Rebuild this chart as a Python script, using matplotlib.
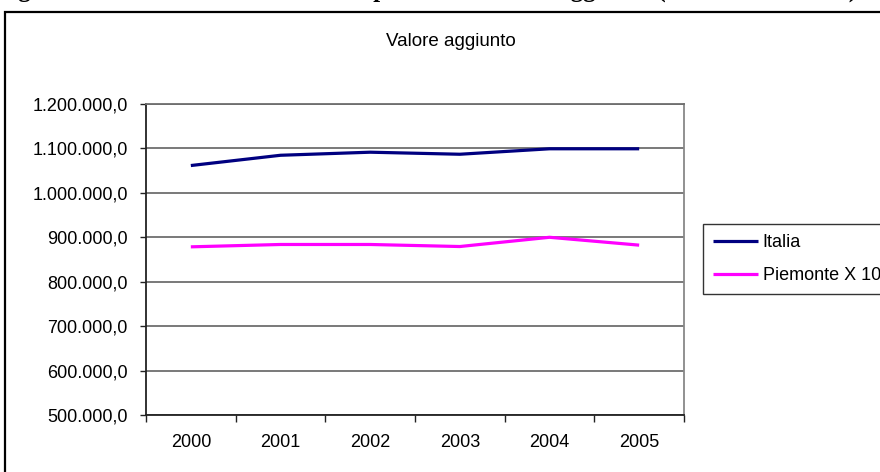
import numpy as np
import matplotlib.pyplot as plt
from matplotlib.patches import Rectangle
from matplotlib.ticker import FuncFormatter, FixedLocator

# data
anni = ["2000", "2001", "2002", "2003", "2004", "2005"]
italia = [1061500, 1084600, 1091500, 1086900, 1099200, 1099200]
piemonte_x10 = [878500, 883800, 883800, 879200, 900000, 882300]
y_ticks = [500000, 600000, 700000, 800000, 900000, 1000000, 1100000, 1200000]

W, H = 880, 472
fig = plt.figure(figsize=(W / 100, H / 100), dpi=100)
plt.rcParams['font.family'] = ['Liberation Sans', 'DejaVu Sans']

# document caption, cut off at the top of the picture
fig.text(-3.5 / W, 1 + 3 / H,
         "Figura 5.3: Andamento in serie temporale del valore aggiunto (in milioni di euro)",
         family='Liberation Serif', weight='bold', fontsize=18,
         ha='left', va='baseline')

# outer chart border
fig.patches.append(Rectangle((5 / W, -0.1), 1.2, (H - 12) / H + 0.1,
                             transform=fig.transFigure, fill=False,
                             ec='black', lw=1.6))

ax = fig.add_axes([146 / W, (H - 415) / H, (684 - 146) / W, (415 - 104) / H])
x = np.arange(len(anni))
ax.plot(x, italia, color='#000080', lw=2.3, solid_capstyle='butt', label='Italia')
ax.plot(x, piemonte_x10, color='#FF00FF', lw=2.3, solid_capstyle='butt', label='Piemonte X 10')

ax.set_xlim(-0.5, len(anni) - 0.5)
ax.set_ylim(y_ticks[0], y_ticks[-1])
ax.set_yticks(y_ticks)
ax.yaxis.set_major_formatter(FuncFormatter(
    lambda v, p: f"{v:,.1f}".replace(',', 'X').replace('.', ',').replace('X', '.')))
ax.yaxis.grid(True, color='#6e6e6e', lw=1.3)
ax.set_axisbelow(True)

ax.xaxis.set_major_locator(FixedLocator(np.arange(-0.5, len(anni))))
ax.xaxis.set_minor_locator(FixedLocator(x))
ax.set_xticklabels([], minor=False)
ax.set_xticklabels(anni, minor=True)
ax.tick_params(axis='x', which='major', length=5, width=1, color='#222222')
ax.tick_params(axis='x', which='minor', length=0, pad=14, labelsize=13)
ax.tick_params(axis='y', length=4.5, width=1, pad=8.5, labelsize=13, color='#222222')

ax.spines['left'].set_color('#222222')
ax.spines['bottom'].set_color('#222222')
ax.spines['right'].set_color('#888888')
ax.spines['top'].set_color('#6e6e6e')
for s in ax.spines.values():
    s.set_linewidth(1.3)

fig.text(451 / W, 1 - 41 / H, "Valore aggiunto", ha='center', va='center', fontsize=13.5)

leg = ax.legend(loc='upper left', bbox_to_anchor=(703 / W, 1 - 224 / H),
                bbox_transform=fig.transFigure, fontsize=13, frameon=True,
                fancybox=False, edgecolor='black', borderpad=0.55,
                handlelength=2.5, handletextpad=0.25, labelspacing=0.9,
                borderaxespad=0)
leg.get_frame().set_linewidth(1.0)

fig.savefig("out.png", dpi=100)
